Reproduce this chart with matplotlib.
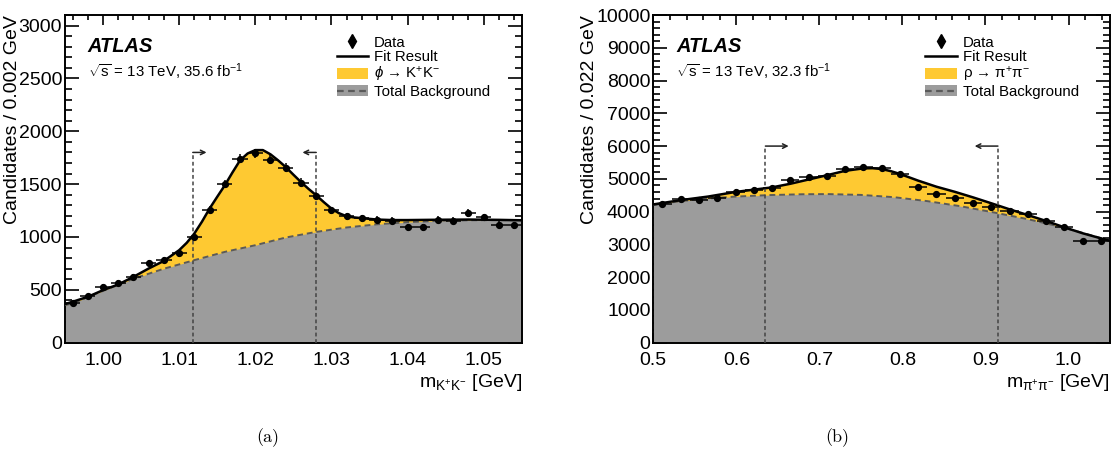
import matplotlib
matplotlib.use("Agg")
import matplotlib.pyplot as plt
from matplotlib.ticker import MultipleLocator, FixedLocator
from matplotlib.patches import Patch
from matplotlib.lines import Line2D

plt.rcParams['font.family'] = ['Liberation Sans', 'DejaVu Sans']
plt.rcParams['mathtext.fontset'] = 'custom'
plt.rcParams['mathtext.rm'] = 'Liberation Sans'
plt.rcParams['mathtext.it'] = 'Liberation Sans:italic'
plt.rcParams['mathtext.bf'] = 'Liberation Sans:bold'
plt.rcParams['mathtext.sf'] = 'Liberation Sans'

# ---------------- panel (a): phi -> K+K- ----------------
a_centers = [0.996, 0.998, 1.000, 1.002, 1.004, 1.006, 1.008, 1.010, 1.012, 1.014,
             1.016, 1.018, 1.020, 1.022, 1.024, 1.026, 1.028, 1.030, 1.032, 1.034,
             1.036, 1.038, 1.040, 1.042, 1.044, 1.046, 1.048, 1.050, 1.052, 1.054]
a_counts = [378, 444, 529, 567, 623, 755, 787, 844, 1001, 1260,
            1499, 1741, 1794, 1732, 1656, 1515, 1388, 1253, 1196, 1178,
            1163, 1156, 1090, 1090, 1163, 1153, 1226, 1185, 1115, 1109]
a_err = [19, 21, 23, 24, 25, 27, 28, 29, 32, 35,
         39, 42, 42, 42, 41, 39, 37, 35, 35, 34,
         34, 34, 33, 33, 34, 34, 35, 34, 33, 33]
a_halfbin = 0.001

a_fit_x = [0.995, 0.996, 0.998, 1.000, 1.002, 1.004, 1.006, 1.008, 1.010, 1.011,
           1.012, 1.013, 1.014, 1.015, 1.016, 1.017, 1.018, 1.019, 1.020, 1.021,
           1.022, 1.023, 1.024, 1.025, 1.026, 1.027, 1.028, 1.029, 1.030, 1.031,
           1.032, 1.033, 1.034, 1.036, 1.038, 1.040, 1.044, 1.048, 1.052, 1.055]
a_fit_y = [365, 387, 434, 497, 551, 623, 702, 774, 875, 945,
           1033, 1145, 1269, 1380, 1489, 1610, 1725, 1790, 1822, 1822,
           1782, 1725, 1662, 1590, 1520, 1455, 1395, 1330, 1269, 1225,
           1196, 1185, 1178, 1165, 1160, 1160, 1163, 1165, 1162, 1158]
a_bkg_x = [0.995, 0.996, 1.000, 1.004, 1.008, 1.012, 1.016, 1.020, 1.024, 1.028,
           1.032, 1.036, 1.040, 1.044, 1.048, 1.052, 1.055]
a_bkg_y = [355, 372, 490, 605, 700, 781, 859, 922, 995, 1048,
           1090, 1120, 1140, 1152, 1158, 1160, 1158]
a_window = [1.0118, 1.0280]
a_window_top = 1800
a_arrow_len = 0.0018

# ---------------- panel (b): rho -> pi+pi- ----------------
b_centers = [0.511, 0.533, 0.555, 0.577, 0.599, 0.621, 0.643, 0.665, 0.687, 0.709,
             0.731, 0.753, 0.775, 0.797, 0.819, 0.841, 0.863, 0.885, 0.907, 0.929,
             0.951, 0.973, 0.995, 1.017, 1.039]
b_counts = [4230, 4370, 4340, 4420, 4610, 4670, 4710, 4960, 5050, 5100,
            5300, 5350, 5320, 5140, 4745, 4540, 4410, 4265, 4130, 4005,
            3930, 3725, 3530, 3110, 3100]
b_err = [65, 66, 66, 66, 68, 68, 69, 70, 71, 71,
         73, 73, 73, 72, 69, 67, 66, 65, 64, 63,
         63, 61, 59, 56, 56]
b_halfbin = 0.011

b_fit_x = [0.500, 0.533, 0.566, 0.599, 0.621, 0.643, 0.665, 0.687, 0.709, 0.731,
           0.753, 0.764, 0.775, 0.786, 0.797, 0.819, 0.841, 0.863, 0.885, 0.907,
           0.929, 0.951, 0.973, 0.995, 1.017, 1.039, 1.050]
b_fit_y = [4220, 4350, 4460, 4600, 4670, 4740, 4850, 4980, 5110, 5245,
           5320, 5325, 5300, 5235, 5150, 4945, 4760, 4605, 4435, 4255,
           4070, 3895, 3715, 3520, 3340, 3185, 3110]
b_bkg_x = [0.50, 0.53, 0.56, 0.60, 0.64, 0.68, 0.71, 0.75, 0.79, 0.83,
           0.87, 0.91, 0.95, 0.99, 1.02, 1.05]
b_bkg_y = [4200, 4310, 4390, 4460, 4505, 4530, 4535, 4510, 4440, 4320,
           4165, 3975, 3775, 3540, 3330, 3110]
b_window = [0.635, 0.915]
b_window_top = 6000
b_arrow_len = 0.028

YELLOW = '#FEC932'
GRAY = '#9C9C9C'
DASH = '#5A5A5A'

fig = plt.figure(figsize=(11.2, 4.69), dpi=100)
axL = fig.add_axes([0.0580, 0.2693, 0.4078, 0.6987])
axR = fig.add_axes([0.5833, 0.2693, 0.4078, 0.6987])


def draw_panel(ax, centers, counts, err, hw, fx, fy, bx, by, window, wtop, alen,
               xlim, ylim, xmaj, xmin, ymaj, ymin, xfmt, ylabel, xlabel, lumi,
               siglabel, ylab_x):
    ax.fill_between(fx, 0, fy, color=YELLOW, lw=0, zorder=1)
    ax.fill_between(bx, 0, by, color=GRAY, lw=0, zorder=2)
    ax.plot(bx, by, color=DASH, lw=1.4, ls=(0, (3, 2)), zorder=3)
    ax.plot(fx, fy, color='black', lw=1.8, zorder=4)
    ax.errorbar(centers, counts, xerr=hw, yerr=err, fmt='o', color='black',
                ms=4.2, elinewidth=1.1, capsize=0, zorder=6)
    # signal window markers
    for i, xw in enumerate(window):
        ax.plot([xw, xw], [0, wtop], color='#444444', lw=1.1, ls=(0, (2.5, 1.8)), zorder=5)
        direction = 1 if i == 0 else -1
        ax.annotate('', xy=(xw + direction * alen, wtop), xytext=(xw, wtop),
                    arrowprops=dict(arrowstyle='->', color='#222222', lw=1.1,
                                    shrinkA=0, shrinkB=0, mutation_scale=8),
                    zorder=5)
    ax.set_xlim(*xlim)
    ax.set_ylim(*ylim)
    ax.xaxis.set_major_locator(FixedLocator(xmaj))
    ax.set_xticklabels([xfmt.format(v) for v in xmaj])
    ax.xaxis.set_minor_locator(MultipleLocator(xmin))
    ax.yaxis.set_major_locator(MultipleLocator(ymaj))
    ax.yaxis.set_minor_locator(MultipleLocator(ymin))
    ax.tick_params(which='both', direction='in', top=True, right=True,
                   labelsize=14, width=1.2)
    ax.tick_params(axis='x', which='major', length=7.2, pad=7)
    ax.tick_params(axis='x', which='minor', length=3.6)
    ax.tick_params(axis='y', which='major', length=10, pad=2)
    ax.tick_params(axis='y', which='minor', length=5)
    for s in ax.spines.values():
        s.set_linewidth(1.4)
    ax.set_ylabel(ylabel, loc='top', fontsize=14)
    ax.yaxis.set_label_coords(ylab_x, 1.0)
    ax.set_xlabel(xlabel, loc='right', fontsize=14)
    ax.xaxis.set_label_coords(1.0, -0.09)
    ax.xaxis.label.set_va('top')
    ax.text(0.050, 0.887, 'ATLAS', transform=ax.transAxes, fontsize=14.4,
            fontweight='bold', fontstyle='italic')
    ax.text(0.050, 0.809, lumi, transform=ax.transAxes, fontsize=10.8)
    handles = [Line2D([], [], color='black', marker='d', ls='none', ms=7),
               Line2D([], [], color='black', lw=1.8),
               Patch(facecolor=YELLOW, edgecolor='none'),
               (Patch(facecolor=GRAY, edgecolor='none'),
                Line2D([], [], color=DASH, lw=1.6, ls=(0, (3, 2))))]
    labels = ['Data', 'Fit Result', siglabel, 'Total Background']
    ax.legend(handles, labels, loc='upper left', bbox_to_anchor=(0.595, 0.937),
              frameon=False, fontsize=10.8, borderpad=0, borderaxespad=0,
              handlelength=2.1, handleheight=0.75, handletextpad=0.4,
              labelspacing=0.05)


draw_panel(axL, a_centers, a_counts, a_err, a_halfbin, a_fit_x, a_fit_y,
           a_bkg_x, a_bkg_y, a_window, a_window_top, a_arrow_len,
           (0.995, 1.055), (0, 3100), [1.00, 1.01, 1.02, 1.03, 1.04, 1.05], 0.002,
           500, 100, '{:.2f}', 'Candidates / 0.002 GeV',
           r'm$_{\mathrm{K^{+}K^{-}}}$ [GeV]',
           r'$\sqrt{\mathrm{s}}$ = 13 TeV, 35.6 fb$^{\mathrm{-1}}$',
           '$\\phi$ \u2192 K$^{+}$K$^{-}$', -0.097)
draw_panel(axR, b_centers, b_counts, b_err, b_halfbin, b_fit_x, b_fit_y,
           b_bkg_x, b_bkg_y, b_window, b_window_top, b_arrow_len,
           (0.5, 1.05), (0, 10000), [0.5, 0.6, 0.7, 0.8, 0.9, 1.0], 0.02,
           1000, 200, '{:.1f}', 'Candidates / 0.022 GeV',
           r'm$_{\mathrm{\pi^{+}\pi^{-}}}$ [GeV]',
           r'$\sqrt{\mathrm{s}}$ = 13 TeV, 32.3 fb$^{\mathrm{-1}}$',
           '$\\mathrm{\\rho}$ \u2192 $\\mathrm{\\pi^{+}\\pi^{-}}$', -0.121)

fig.text(268 / 1120, 1 - 438 / 469, '(a)', ha='center', va='center',
         fontsize=13, family=['cmr10', 'DejaVu Serif'])
fig.text(837 / 1120, 1 - 438 / 469, '(b)', ha='center', va='center',
         fontsize=13, family=['cmr10', 'DejaVu Serif'])

fig.savefig('out.png', dpi=100)
